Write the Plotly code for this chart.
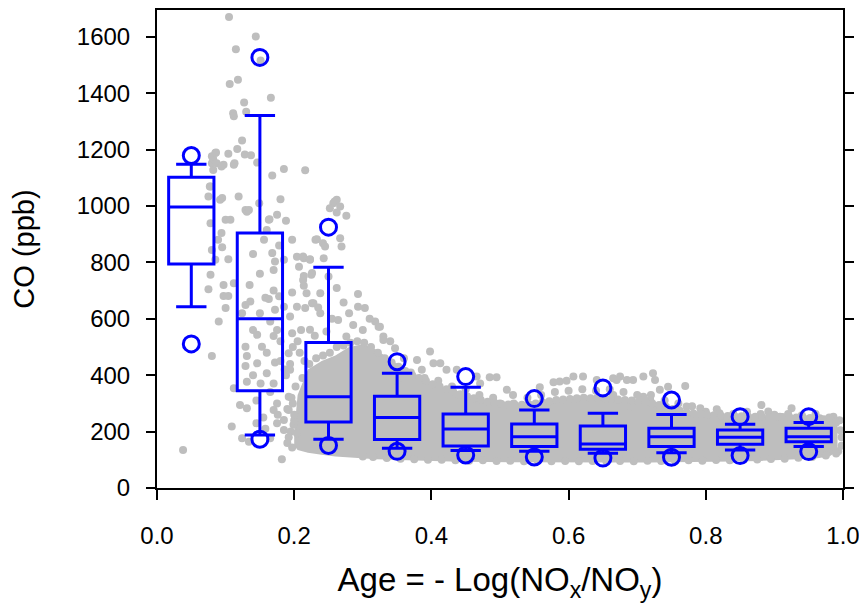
import plotly.graph_objects as go

# ---- box statistics ----
box_x = [0.05, 0.15, 0.25, 0.35, 0.45, 0.55, 0.65, 0.75, 0.85, 0.95]
q3 = [1102, 904, 516, 325, 262, 227, 220, 212, 206, 212]
median = [996, 600, 324, 250, 209, 182, 156, 182, 180, 182]
q1 = [794, 345, 234, 172, 149, 147, 137, 147, 155, 164]
whisk_lo = [643, 188, 173, 141, 133, 130, 123, 125, 135, 147]
whisk_hi = [1148, 1321, 783, 407, 357, 277, 265, 261, 226, 232]
pct_lo = [511, 173, 151, 130, 117, 110, 106, 109, 115, 129]
pct_hi = [1179, 1527, 925, 448, 395, 317, 355, 312, 253, 253]

# ---- dense core of grey observations (edge envelope) ----
band_x = [0.200, 0.205, 0.22, 0.24, 0.26, 0.28, 0.30, 0.32, 0.34, 0.36, 0.38, 0.40,
          0.44, 0.48, 0.52, 0.56, 0.60, 0.64, 0.68, 0.72, 0.76, 0.80, 0.84, 0.88,
          0.92, 0.96, 0.98, 0.992]
band_hi = [200, 330, 420, 450, 470, 500, 510, 490, 455, 425, 400, 375,
           335, 305, 295, 300, 315, 320, 318, 305, 280, 262, 255, 252,
           252, 248, 240, 225]
band_lo = [150, 135, 125, 118, 112, 108, 105, 102, 100, 98, 96, 95,
           93, 92, 91, 90, 90, 90, 90, 90, 91, 92, 94, 96,
           100, 105, 112, 130]

# ---- individual grey observations ----
obs_x = [
    0.038, 0.080, 0.090, 0.075, 0.078, 0.085, 0.080, 0.095, 0.104, 0.097, 0.112, 0.097,
    0.104, 0.100, 0.078, 0.100, 0.107, 0.075, 0.095, 0.078, 0.080, 0.097, 0.112, 0.082,
    0.086, 0.104, 0.113, 0.092, 0.080, 0.085, 0.087, 0.082, 0.094, 0.077, 0.094, 0.089,
    0.105, 0.144, 0.115, 0.151, 0.118, 0.106, 0.166, 0.127, 0.130, 0.111, 0.112, 0.124,
    0.117, 0.128, 0.137, 0.146, 0.185, 0.216, 0.168, 0.180, 0.119, 0.149, 0.131, 0.129,
    0.134, 0.164, 0.175, 0.188, 0.163, 0.160, 0.197, 0.231, 0.156, 0.168, 0.204, 0.214,
    0.223, 0.172, 0.185, 0.207, 0.170, 0.226, 0.214, 0.214, 0.197, 0.158, 0.163, 0.136,
    0.129, 0.172, 0.185, 0.204, 0.226, 0.194, 0.124, 0.146, 0.170, 0.153, 0.129, 0.131,
    0.172, 0.146, 0.129, 0.160, 0.131, 0.151, 0.170, 0.112, 0.121, 0.131, 0.109, 0.124,
    0.134, 0.182, 0.197, 0.165, 0.192, 0.192, 0.185, 0.199, 0.204, 0.185, 0.175, 0.170,
    0.194, 0.192, 0.197, 0.140, 0.165, 0.135, 0.150, 0.170, 0.140, 0.150, 0.160, 0.140,
    0.165, 0.145, 0.175, 0.180, 0.180, 0.175, 0.178, 0.178, 0.155, 0.145, 0.158, 0.176,
    0.257, 0.262, 0.276, 0.252, 0.267, 0.233, 0.242, 0.259, 0.267, 0.262, 0.245, 0.269,
    0.243, 0.213, 0.223, 0.225, 0.250, 0.213, 0.262, 0.293, 0.238, 0.218, 0.228, 0.272,
    0.293, 0.303, 0.216, 0.238, 0.264, 0.286, 0.318, 0.323, 0.223, 0.247, 0.330, 0.276,
    0.205, 0.210, 0.230, 0.255, 0.280, 0.300, 0.310, 0.340, 0.208, 0.235, 0.198, 0.215,
    0.325, 0.330, 0.347, 0.398, 0.379, 0.386, 0.403, 0.413, 0.422, 0.437, 0.466, 0.485,
    0.495, 0.471, 0.510, 0.519, 0.558, 0.578, 0.587, 0.597, 0.607, 0.621, 0.641, 0.665,
    0.675, 0.685, 0.670, 0.694, 0.709, 0.723, 0.726, 0.745, 0.770, 0.733, 0.709, 0.719,
    0.665, 0.690, 0.792, 0.816, 0.881, 0.925, 0.908, 0.986, 0.966, 0.891, 0.772,
    0.360, 0.340, 0.370, 0.350, 0.390, 0.410, 0.430, 0.450, 0.440, 0.470, 0.490, 0.500,
    0.520, 0.540, 0.560, 0.580, 0.600, 0.620, 0.640, 0.660, 0.680, 0.700, 0.720, 0.740,
    0.760, 0.780, 0.800, 0.820, 0.840, 0.860, 0.880, 0.900, 0.920, 0.940, 0.960, 0.980,
    0.995, 0.998, 0.998, 0.996, 0.993,
    0.300, 0.315, 0.335, 0.355, 0.375, 0.395, 0.415, 0.435, 0.455, 0.475, 0.495, 0.515,
    0.535, 0.555, 0.575, 0.595, 0.615, 0.635, 0.655, 0.675, 0.695, 0.715, 0.735, 0.755,
    0.775, 0.795, 0.815, 0.835, 0.855, 0.875, 0.895, 0.915, 0.935, 0.955, 0.975, 0.990,
    0.190, 0.195, 0.200, 0.190, 0.196, 0.202, 0.188, 0.194, 0.200, 0.192, 0.198, 0.186,
    0.212, 0.222, 0.232, 0.242, 0.252, 0.262, 0.272, 0.282, 0.292, 0.302, 0.312, 0.322,
    0.332, 0.342, 0.352, 0.362, 0.372, 0.382, 0.392, 0.402, 0.412, 0.422, 0.432, 0.442,
    0.452, 0.462, 0.472, 0.482, 0.492, 0.502, 0.512, 0.522, 0.532, 0.542, 0.552, 0.562,
    0.572, 0.582, 0.592, 0.602, 0.612, 0.622, 0.632, 0.642, 0.652, 0.662, 0.672, 0.682,
    0.692, 0.702, 0.712, 0.722, 0.732, 0.742, 0.752, 0.762, 0.772, 0.782, 0.792, 0.802,
    0.812, 0.822, 0.832, 0.842, 0.852, 0.862, 0.872, 0.882, 0.892, 0.902, 0.912, 0.922,
    0.932, 0.942, 0.952, 0.962, 0.972, 0.982, 0.990,
]
obs_y = [
    135, 468, 590, 705, 756, 809, 844, 854, 811, 720, 726, 681,
    681, 638, 939, 951, 951, 1034, 1028, 1069, 1152, 1146, 1146, 1166,
    1190, 1185, 1152, 1022, 1176, 1188, 1152, 1128, 1140, 1069, 904, 880,
    1670, 1601, 1556, 1516, 1448, 1433, 1384, 1367, 1334, 1329, 1318, 1232,
    1202, 1183, 1180, 1154, 1131, 1127, 1108, 1024, 1034, 1010, 980, 986,
    986, 953, 969, 948, 951, 915, 880, 880, 880, 833, 820, 815,
    811, 803, 809, 785, 773, 762, 752, 717, 693, 675, 670, 661,
    649, 632, 643, 643, 655, 608, 620, 543, 539, 501, 501, 468,
    445, 442, 433, 407, 377, 371, 371, 354, 294, 283, 218, 176,
    164, 102, 144, 176, 324, 277, 241, 224, 194, 206, 230, 277,
    419, 478, 549, 560, 590, 720, 760, 700, 830, 620, 480, 400,
    340, 310, 300, 450, 520, 560, 680, 860, 250, 230, 210, 260,
    1010, 1022, 965, 992, 886, 882, 868, 1016, 998, 977, 856, 856,
    815, 821, 809, 756, 750, 738, 709, 688, 691, 691, 655, 658,
    643, 638, 638, 620, 596, 578, 590, 572, 561, 555, 537, 537,
    520, 560, 540, 600, 620, 560, 600, 520, 480, 640, 500, 450,
    572, 525, 496, 484, 454, 419, 442, 442, 419, 419, 395, 393,
    393, 371, 348, 330, 357, 375, 378, 380, 395, 395, 383, 389,
    395, 383, 383, 383, 395, 407, 383, 359, 362, 348, 324, 312,
    330, 289, 283, 279, 294, 283, 253, 253, 247, 271, 289,
    460, 430, 410, 380, 390, 380, 360, 350, 330, 330, 320, 300,
    300, 320, 330, 340, 345, 350, 345, 350, 340, 330, 330, 310,
    300, 290, 270, 265, 262, 270, 262, 260, 262, 258, 262, 250,
    240, 150, 180, 205, 130,
    112, 110, 106, 104, 102, 100, 100, 98, 97, 98, 96, 97,
    95, 96, 95, 96, 95, 96, 95, 96, 95, 97, 96, 97,
    98, 97, 99, 98, 100, 101, 103, 104, 107, 110, 115, 122,
    160, 200, 240, 280, 320, 360, 400, 440, 260, 180, 300, 420,
    390, 440, 460, 470, 480, 500, 505, 515, 520, 515, 500, 480,
    460, 445, 430, 415, 400, 390, 380, 368, 360, 350, 340, 332,
    325, 318, 312, 306, 302, 298, 296, 294, 295, 297, 300, 304,
    308, 312, 314, 316, 318, 320, 318, 320, 318, 316, 314, 312,
    310, 306, 304, 300, 294, 288, 280, 274, 268, 264, 262, 260,
    258, 256, 255, 254, 254, 253, 253, 252, 252, 252, 252, 251,
    250, 249, 248, 246, 244, 240, 232,
]

grey = "#BEBEBE"
blue = "#0000FF"
FONT = "Liberation Sans, Arial, sans-serif"

fig = go.Figure()

fig.add_trace(go.Scatter(
    x=band_x + band_x[::-1], y=band_hi + band_lo[::-1],
    mode="lines", fill="toself", fillcolor=grey,
    line=dict(color=grey, width=0), hoverinfo="skip", showlegend=False))

fig.add_trace(go.Scatter(
    x=obs_x, y=obs_y, mode="markers",
    marker=dict(color=grey, size=8, line=dict(width=0)),
    showlegend=False))

# boxes and percentile circles on an overlaying axis pair so they sit above the grey points
fig.add_trace(go.Box(
    x=box_x, q1=q1, median=median, q3=q3,
    lowerfence=whisk_lo, upperfence=whisk_hi,
    width=0.066, whiskerwidth=0.67, boxpoints=False,
    fillcolor="rgba(0,0,0,0)", line=dict(color=blue, width=3),
    xaxis="x2", yaxis="y2", showlegend=False))

fig.add_trace(go.Scatter(
    x=box_x + box_x, y=pct_lo + pct_hi, mode="markers",
    marker=dict(symbol="circle-open", size=16, color=blue, line=dict(width=3, color=blue)),
    xaxis="x2", yaxis="y2", showlegend=False))

tick_font = dict(family=FONT, size=24, color="black")
XR = [0, 1]
YR = [0, 1695]
fig.update_layout(
    width=859, height=595,
    margin=dict(l=149, r=24, t=2, b=115, autoexpand=False),
    paper_bgcolor="white", plot_bgcolor="white",
    font=tick_font,
    xaxis=dict(range=XR, tickvals=[0, 0.2, 0.4, 0.6, 0.8, 1.0],
               ticktext=["0.0", "0.2", "0.4", "0.6", "0.8", "1.0"],
               ticks="outside", ticklen=10, tickwidth=1.5, tickcolor="black",
               ticklabelstandoff=15,
               showline=True, linecolor="black", linewidth=2, mirror=True,
               showgrid=False, zeroline=False, tickfont=tick_font, automargin=False,
               title=dict(text="Age = - Log(NO<sub>x</sub>/NO<sub>y</sub>)",
                          font=dict(family=FONT, size=33, color="black"), standoff=21)),
    yaxis=dict(range=YR, tickvals=[0, 200, 400, 600, 800, 1000, 1200, 1400, 1600],
               ticks="outside", ticklen=9, tickwidth=1.5, tickcolor="black",
               ticklabelstandoff=11,
               showline=True, linecolor="black", linewidth=2, mirror="ticks",
               showgrid=False, zeroline=False, tickfont=tick_font, automargin=False,
               title=dict(text="CO (ppb)", font=dict(family=FONT, size=29, color="black"),
                          standoff=40)),
    xaxis2=dict(range=XR, overlaying="x", visible=False),
    yaxis2=dict(range=YR, overlaying="y", visible=False),
)

fig.write_html("out.html")
